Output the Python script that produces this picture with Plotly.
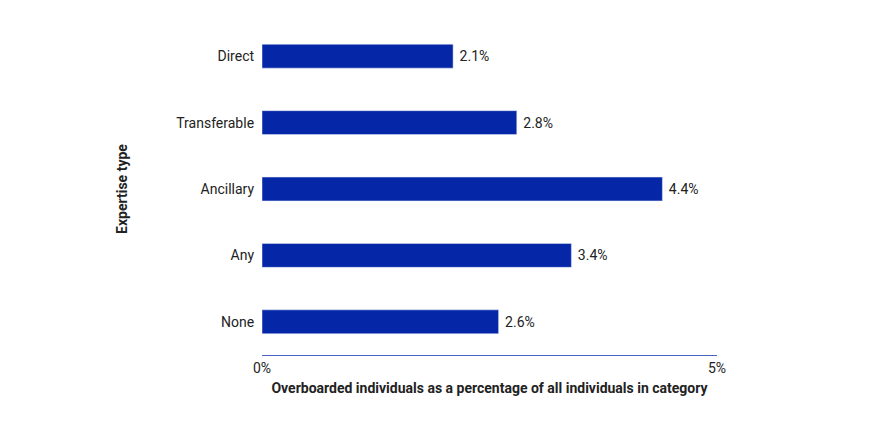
import plotly.graph_objects as go

categories = ["Direct", "Transferable", "Ancillary", "Any", "None"]
values = [2.1, 2.8, 4.4, 3.4, 2.6]
labels = ["2.1%", "2.8%", "4.4%", "3.4%", "2.6%"]
tick_vals = [0, 5]
tick_text = ["0%", "5%"]

fig = go.Figure(go.Bar(
    x=values, y=categories, orientation="h",
    marker_color="#0626a8", text=[" " + t for t in labels], textposition="outside",
    textfont=dict(size=14, color="#222"), cliponaxis=False, width=0.36,
))
fig.update_layout(
    width=870, height=435, plot_bgcolor="white", paper_bgcolor="white",
    margin=dict(l=254, r=161, t=15, b=88),
    font=dict(family="Roboto", size=14, color="#222"),
    showlegend=False,
)
fig.update_xaxes(range=[0, 5], tickvals=tick_vals, ticktext=tick_text,
                 showgrid=False, zeroline=False, showline=True, linecolor="#4a62c4", linewidth=1,
                 ticks="inside", ticklen=7, tickwidth=1.5, tickcolor="#4a62c4",
                 title=dict(text="<b>Overboarded individuals as a percentage of all individuals in category</b>", standoff=8, font=dict(size=14)))
fig.update_yaxes(categoryorder="array", categoryarray=categories[::-1], autorange=True,
                 showgrid=False, ticks="", ticksuffix="  ",
                 title=dict(text="<b>Expertise type</b>", standoff=45, font=dict(size=14)))
fig.write_html("out.html")
